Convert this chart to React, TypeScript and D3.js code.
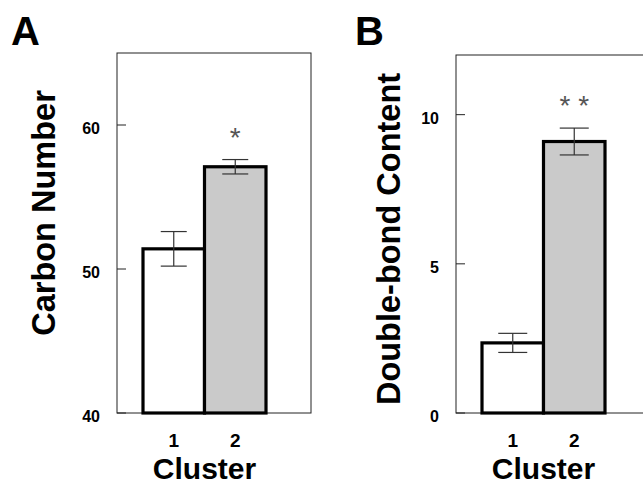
import React from 'react'
import { scaleBand, scaleLinear } from 'd3'

const clusters = ['1', '2']
const carbonMeans = [51.4, 57.1]
const carbonErrors = [1.2, 0.5]
const carbonTicks = [40, 50, 60]
const doubleBondMeans = [2.35, 9.1]
const doubleBondErrors = [0.32, 0.45]
const doubleBondTicks = [0, 5, 10]

const font = '"Liberation Sans", Arial, sans-serif'
const fills = ['#ffffff', '#cacaca']

type PanelProps = {
  letter: string
  letterX: number
  title: string
  titleX: number
  titleY: number
  left: number
  right: number
  top: number
  domain: [number, number]
  ticks: number[]
  means: number[]
  errors: number[]
  star: string
  capW: number
}

const bottom = 413

const Panel = (p: PanelProps) => {
  const y = scaleLinear().domain(p.domain).range([bottom, p.top])
  const x = scaleBand<string>()
    .domain(clusters)
    .range([p.left + 26, p.left + 149])
    .padding(0)
  const bw = x.bandwidth()
  const center = (c: string) => (x(c) as number) + bw / 2
  const last = clusters.length - 1
  return (
    <g>
      <text x={p.letterX} y={45} fontFamily={font} fontWeight="bold" fontSize={40}>
        {p.letter}
      </text>
      <rect x={p.left} y={p.top} width={p.right - p.left} height={bottom - p.top}
        fill="none" stroke="#222" strokeWidth={1} />
      {p.ticks.map(t => (
        <g key={t}>
          <line x1={p.left} x2={p.left + 9} y1={y(t)} y2={y(t)} stroke="#222" />
          <text x={p.left - 17} y={y(t) + 9} textAnchor="end" fontFamily={font}
            fontWeight="bold" fontSize={16}>{t}</text>
        </g>
      ))}
      {clusters.map((c, i) => (
        <rect key={c} x={x(c)} y={y(p.means[i])} width={bw} height={bottom - y(p.means[i])}
          fill={fills[i]} stroke="#000" strokeWidth={3.2} />
      ))}
      {clusters.map((c, i) => {
        const cx = center(c)
        const hi = y(p.means[i] + p.errors[i])
        const lo = y(p.means[i] - p.errors[i])
        return (
          <g key={c} stroke="#333" strokeWidth={1.2}>
            <line x1={cx} x2={cx} y1={hi} y2={lo} />
            <line x1={cx - p.capW / 2} x2={cx + p.capW / 2} y1={hi} y2={hi} />
            <line x1={cx - p.capW / 2} x2={cx + p.capW / 2} y1={lo} y2={lo} />
          </g>
        )
      })}
      <text x={center(clusters[last])} y={y(p.means[last] + p.errors[last]) - 13}
        textAnchor="middle" fontFamily={font} fontSize={28} fill="#555">{p.star}</text>
      {clusters.map(c => (
        <text key={c} x={center(c)} y={447} textAnchor="middle" fontFamily={font}
          fontWeight="bold" fontSize={19}>{c}</text>
      ))}
      <text x={(x(clusters[0]) as number + (x(clusters[last]) as number) + bw) / 2} y={479}
        textAnchor="middle" fontFamily={font} fontWeight="bold" fontSize={30}>Cluster</text>
      <text transform={`translate(${p.titleX}, ${p.titleY}) rotate(-90)`}
        textAnchor="middle" fontFamily={font} fontWeight="bold" fontSize={32.5}>{p.title}</text>
    </g>
  )
}

const App = () => {
  return (
    <svg width={643} height={486} style={{ position: 'absolute', left: 0, top: 0, background: '#fff' }}>
      <rect width={643} height={486} fill="#fff" />
      <Panel letter="A" letterX={11} title="Carbon Number" titleX={55} titleY={213} left={117} right={311}
        top={53} domain={[40, 65]} ticks={carbonTicks} means={carbonMeans}
        errors={carbonErrors} star="*" capW={26} />
      <Panel letter="B" letterX={355} title="Double-bond Content" titleX={400} titleY={239} left={456} right={648}
        top={55} domain={[0, 12]} ticks={doubleBondTicks} means={doubleBondMeans}
        errors={doubleBondErrors} star="* *" capW={29} />
    </svg>
  )
}

export default App
